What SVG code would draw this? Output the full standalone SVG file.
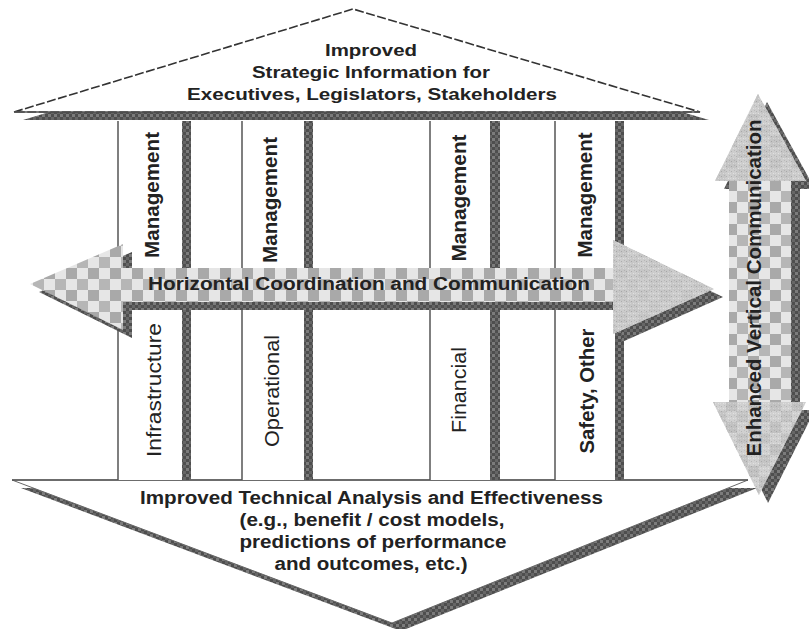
<svg xmlns="http://www.w3.org/2000/svg" width="809" height="629" viewBox="0 0 809 629">
  <style>
    .lbl { font-family: "Liberation Sans", Arial, sans-serif; fill: #222; }
    .b { font-weight: bold; }
    .col-box { fill: #fff; }
    .col-line { stroke: #555; stroke-width: 1.5; fill: none; }
    .col-shadow { fill: url(#drk); }
    .shadow { fill: url(#drk); }
  </style>
  <defs>
    <!-- gray / white checkerboard used on the arrow bodies -->
    <pattern id="chk" width="22" height="22" patternUnits="userSpaceOnUse" x="0" y="268">
      <rect width="22" height="22" fill="#e6e6e6"/>
      <rect width="11" height="11" fill="#a9a9a9"/>
      <rect x="11" y="11" width="11" height="11" fill="#b6b6b6"/>
    </pattern>
    <!-- fine grain gray used on some arrowheads -->
    <pattern id="spk" width="5" height="5" patternUnits="userSpaceOnUse">
      <rect width="5" height="5" fill="#c9c9c9"/>
      <rect x="1" y="1" width="1" height="1" fill="#a6a6a6"/>
      <rect x="3" y="3" width="1" height="1" fill="#e0e0e0"/>
      <rect x="4" y="0" width="1" height="1" fill="#b2b2b2"/>
      <rect x="0" y="3" width="1" height="1" fill="#d8d8d8"/>
    </pattern>
    <!-- dark textured shadow -->
    <pattern id="drk" width="6" height="6" patternUnits="userSpaceOnUse">
      <rect width="6" height="6" fill="#4e4e4e"/>
      <rect width="3" height="3" fill="#7c7c7c"/>
      <rect x="3" y="3" width="3" height="3" fill="#666"/>
    </pattern>
  </defs>

  <rect width="809" height="629" fill="#fff"/>

  <!-- top roof: strategic information -->
  <g id="strategic-info">
    <polygon class="shadow" points="23,120 362,17 709,120"/>
    <polygon points="14,112 353,9 700,112" fill="#fff" stroke="#333" stroke-width="1.6" stroke-dasharray="9 2.5"/>
    <line x1="14" y1="112" x2="700" y2="112" stroke="#555" stroke-width="1.5"/>
    <text class="lbl b" font-size="17" text-anchor="middle" x="371" y="56" textLength="92" lengthAdjust="spacingAndGlyphs">Improved</text>
    <text class="lbl b" font-size="17" text-anchor="middle" x="371" y="78" textLength="238" lengthAdjust="spacingAndGlyphs">Strategic Information for</text>
    <text class="lbl b" font-size="17" text-anchor="middle" x="372" y="100" textLength="370" lengthAdjust="spacingAndGlyphs">Executives, Legislators, Stakeholders</text>
  </g>

  <!-- bottom base: technical analysis -->
  <g id="technical-analysis">
    <polygon class="shadow" points="21,488 757,488 401,631"/>
    <polygon points="12,480 748,480 392,623" fill="#fff" stroke="#666" stroke-width="1"/>
    <line x1="12" y1="480" x2="748" y2="480" stroke="#555" stroke-width="1.5"/>
    <text class="lbl b" font-size="18" text-anchor="middle" x="371.5" y="504" textLength="463" lengthAdjust="spacingAndGlyphs">Improved Technical Analysis and Effectiveness</text>
    <text class="lbl b" font-size="18" text-anchor="middle" x="372" y="526" textLength="265" lengthAdjust="spacingAndGlyphs">(e.g., benefit / cost models,</text>
    <text class="lbl b" font-size="18" text-anchor="middle" x="373" y="548" textLength="267" lengthAdjust="spacingAndGlyphs">predictions of performance</text>
    <text class="lbl b" font-size="18" text-anchor="middle" x="371" y="570" textLength="193" lengthAdjust="spacingAndGlyphs">and outcomes, etc.)</text>
  </g>

  <!-- pillars -->
  <g id="col-infrastructure">
    <rect class="col-box" x="118" y="121" width="64" height="359"/>
    <rect class="col-shadow" x="182" y="121" width="9" height="359"/>
    <line class="col-line" x1="118" y1="121" x2="118" y2="480"/>
    <text class="lbl b" font-size="20" text-anchor="middle" transform="translate(159,195) rotate(-90)" textLength="126" lengthAdjust="spacingAndGlyphs">Management</text>
    <text class="lbl" font-size="20" text-anchor="middle" transform="translate(161,390) rotate(-90)" textLength="134" lengthAdjust="spacingAndGlyphs">Infrastructure</text>
  </g>
  <g id="col-operational">
    <rect class="col-box" x="242" y="121" width="62" height="359"/>
    <rect class="col-shadow" x="304" y="121" width="9" height="359"/>
    <line class="col-line" x1="242" y1="121" x2="242" y2="480"/>
    <text class="lbl b" font-size="20" text-anchor="middle" transform="translate(277,200) rotate(-90)" textLength="126" lengthAdjust="spacingAndGlyphs">Management</text>
    <text class="lbl" font-size="20" text-anchor="middle" transform="translate(279,391) rotate(-90)" textLength="112" lengthAdjust="spacingAndGlyphs">Operational</text>
  </g>
  <g id="col-financial">
    <rect class="col-box" x="430" y="121" width="60" height="359"/>
    <rect class="col-shadow" x="490" y="121" width="10" height="359"/>
    <line class="col-line" x1="430" y1="121" x2="430" y2="480"/>
    <text class="lbl b" font-size="20" text-anchor="middle" transform="translate(466,198) rotate(-90)" textLength="127" lengthAdjust="spacingAndGlyphs">Management</text>
    <text class="lbl" font-size="20" text-anchor="middle" transform="translate(466,390) rotate(-90)" textLength="86" lengthAdjust="spacingAndGlyphs">Financial</text>
  </g>
  <g id="col-safety">
    <rect class="col-box" x="555" y="121" width="60" height="359"/>
    <rect class="col-shadow" x="615" y="121" width="9" height="359"/>
    <line class="col-line" x1="555" y1="121" x2="555" y2="480"/>
    <text class="lbl b" font-size="20" text-anchor="middle" transform="translate(592,195) rotate(-90)" textLength="125" lengthAdjust="spacingAndGlyphs">Management</text>
    <text class="lbl b" font-size="20" text-anchor="middle" transform="translate(594,391) rotate(-90)" textLength="125" lengthAdjust="spacingAndGlyphs">Safety, Other</text>
  </g>

  <!-- double-headed horizontal arrow -->
  <g id="horizontal-arrow">
    <polygon class="shadow" transform="translate(9,8)" points="30,284 123,244 123,268 613,268 613,240 714,289 613,334 613,302 123,302 123,330"/>
    <polygon fill="url(#chk)" points="30,284 123,244 123,268 613,268 613,240 714,289 613,334 613,302 123,302 123,330"/>
    <polygon fill="url(#spk)" opacity="0.9" points="613,240 714,289 613,334"/>
    <text class="lbl b" font-size="18" text-anchor="middle" x="369" y="290" textLength="442" lengthAdjust="spacingAndGlyphs">Horizontal Coordination and Communication</text>
  </g>

  <!-- double-headed vertical arrow -->
  <g id="vertical-arrow">
    <polygon class="shadow" transform="translate(9,8)" points="758,94 806,181 791,181 791,402 806,402 759,495 713,402 729,402 729,181 715,181"/>
    <polygon fill="url(#chk)" points="758,94 806,181 791,181 791,402 806,402 759,495 713,402 729,402 729,181 715,181"/>
    <polygon fill="url(#spk)" opacity="0.85" points="758,94 806,181 715,181"/>
    <polygon fill="url(#spk)" opacity="0.75" points="713,402 806,402 759,495"/>
    <text class="lbl b" font-size="20" text-anchor="middle" transform="translate(761,288) rotate(-90)" textLength="337" lengthAdjust="spacingAndGlyphs">Enhanced Vertical Communication</text>
  </g>
</svg>
